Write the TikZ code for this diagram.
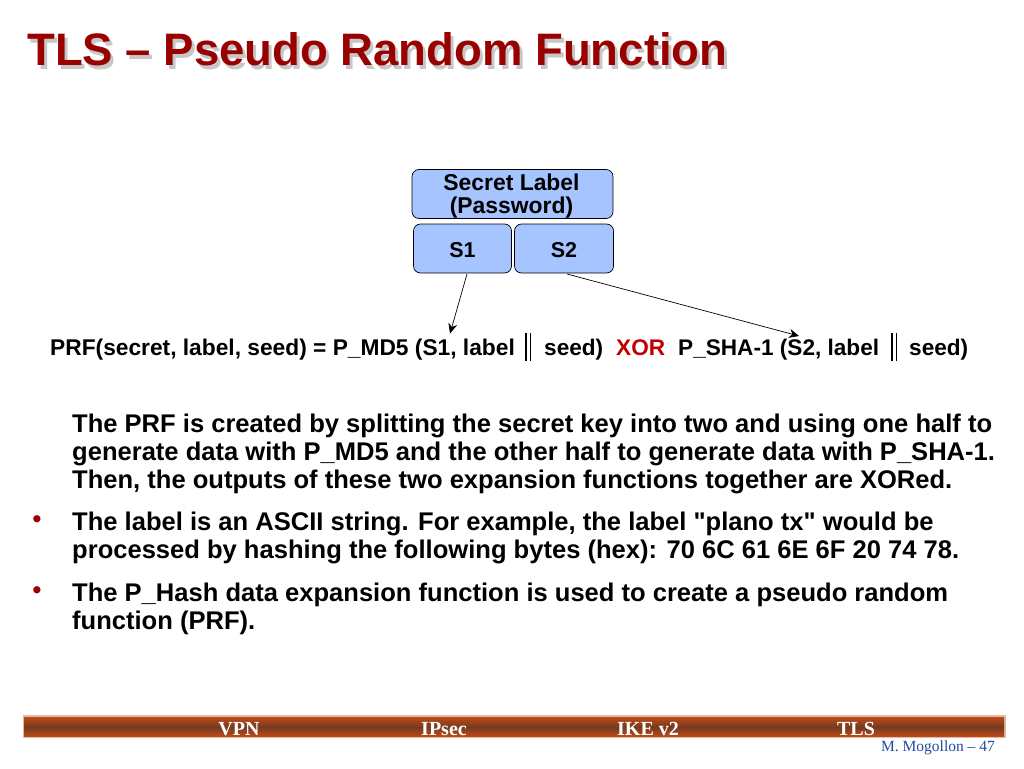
\documentclass[tikz,border=0pt]{standalone}
\usepackage{fontspec}
\setmainfont{Liberation Sans}
\newfontfamily\plainsans{Liberation Sans}
\newfontfamily\serifb{Liberation Serif}
\usetikzlibrary{arrows.meta}
\definecolor{titlered}{HTML}{990000}
\definecolor{boxblue}{HTML}{A6C4FF}
\definecolor{xorred}{HTML}{C00000}
\definecolor{barmid}{HTML}{743A20}
\definecolor{baredge}{HTML}{C04A18}
\definecolor{footblue}{HTML}{1F4BA0}
\tikzset{
  titletext/.style={anchor=base west,inner sep=0pt,font=\fontsize{45.5}{46}\selectfont\bfseries},
  blue box/.style={draw=black,line width=0.7pt,fill=boxblue,rounded corners=7pt,inner sep=0pt,align=center},
  box text/.style={inner sep=0pt,align=center,font=\fontsize{22.9}{22.5}\selectfont\bfseries},
  short text/.style={inner sep=0pt,font=\fontsize{21.5}{22}\selectfont\bfseries},
  formula/.style={anchor=base west,inner sep=0pt,font=\fontsize{22.6}{24}\selectfont\bfseries},
  bodytext/.style={anchor=base west,inner sep=0pt,font=\plainsans\fontsize{25.55}{28.5}\selectfont\bfseries},
  bullet mark/.style={anchor=base,inner sep=0pt,text=titlered,font=\fontsize{25}{28}\selectfont\bfseries},
  connector/.style={-{Stealth[length=10pt,width=9pt]},line width=0.7pt},
  bar label/.style={anchor=base,inner sep=0pt,text=white,font=\serifb\fontsize{20}{20}\selectfont\bfseries},
  double bar/.style={line width=1.3pt},
}
\begin{document}
\begin{tikzpicture}[x=1pt,y=-1pt]
\useasboundingbox (0,0) rectangle (1024,768);
% title
\node[titletext,text=black!22] (titleshadow) at (30,69) {TLS – Pseudo Random Function};
\node[titletext,text=titlered] (title) at (27,66) {TLS – Pseudo Random Function};
% boxes
\node[blue box,minimum width=201pt,minimum height=49pt] (secret) at (512.5,194) {};
\node[box text] (secrettext) at (511.5,196) {Secret Label\\(Password)};
\node[blue box,minimum width=98pt,minimum height=49pt] (s1) at (462.5,248.5) {};
\node[short text] (s1text) at (462.5,250) {S1};
\node[blue box,minimum width=99pt,minimum height=49pt] (s2) at (564,248.5) {};
\node[short text] (s2text) at (564,250) {S2};
% formula
\node[formula,font=\fontsize{22.75}{24}\selectfont\bfseries] (f1) at (50,355) {PRF(secret, label, seed) = P\_MD5 (S1, label};
\node[formula] (f2) at (544,355) {seed)};
\node[formula,text=xorred] (f3) at (616,355) {XOR};
\node[formula] (f4) at (678,355) {P\_SHA-1 (S2, label};
\node[formula] (f5) at (909,355) {seed)};
\draw[double bar] (526,333) -- (526,361) (530.5,333) -- (530.5,361);
\draw[double bar] (892,333) -- (892,361) (896.5,333) -- (896.5,361);
\coordinate (s1from) at (467,274);
\coordinate (s2from) at (567,274);
\coordinate (s1to) at (450,333.5);
\coordinate (s2to) at (799,336);
\draw[connector] (s1from) -- (s1to);
\draw[connector] (s2from) -- (s2to);
% body
\node[bodytext] (l1) at (72,432) {The PRF is created by splitting the secret key into two and using one half to};
\node[bodytext] (l2) at (72,460) {generate data with P\_MD5 and the other half to generate data with P\_SHA-1.};
\node[bodytext] (l3) at (72,488) {Then, the outputs of these two expansion functions together are XORed.};
\node[bullet mark] (b1) at (37,527) {•};
\node[bodytext] (l4) at (72,530) {The label is an ASCII string. For example, the label "plano tx" would be};
\node[bodytext] (l5) at (72,558) {processed by hashing the following bytes (hex): 70 6C 61 6E 6F 20 74 78.};
\node[bullet mark] (b2) at (37,598) {•};
\node[bodytext] (l6) at (72,601) {The P\_Hash data expansion function is used to create a pseudo random};
\node[bodytext] (l7) at (72,629) {function (PRF).};
% footer
\fill[baredge!40] (23,715) rectangle (1006,738);
\shade[top color=baredge,bottom color=barmid] (24,717) rectangle (1004,727);
\shade[top color=barmid,bottom color=baredge] (24,727) rectangle (1004,736.5);
\node[bar label] (vpn) at (239,735) {VPN};
\node[bar label] (ipsec) at (444,735) {IPsec};
\node[bar label] (ike) at (648,735) {IKE v2};
\node[bar label] (tls) at (856,735) {TLS};
\node[anchor=base east,inner sep=0pt,text=footblue,font=\serifb\fontsize{15.5}{16}\selectfont] (page) at (995,751) {M. Mogollon – 47};
\end{tikzpicture}
\end{document}
